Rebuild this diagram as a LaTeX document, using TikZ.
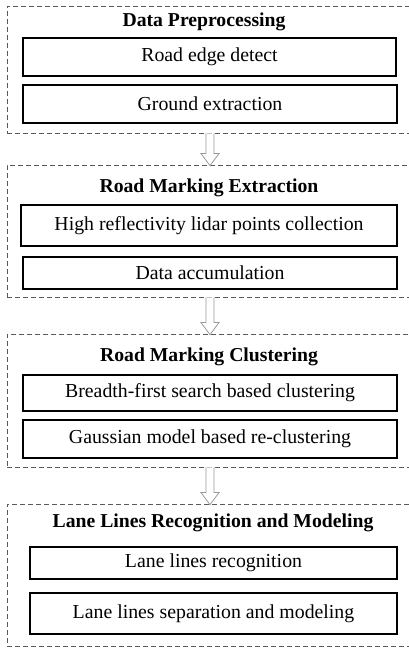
\documentclass[tikz,border=0pt]{standalone}
\usepackage{fontspec}
\setmainfont{Liberation Serif}
\usetikzlibrary{calc}
\begin{document}
\begin{tikzpicture}[x=1pt,y=1pt,
  group/.style={draw=black!65,dashed,dash pattern=on 5pt off 3pt,line width=0.8pt,minimum width=406pt,inner sep=0pt},
  title/.style={font=\fontsize{19.7}{22}\selectfont\bfseries,inner sep=0pt},
  stepbox/.style={draw=black,line width=1.5pt,inner sep=0pt,font=\fontsize{19.8}{22}\selectfont},
  hollow/.style={draw=black!40,fill=white,line width=0.8pt,line join=miter}]
\useasboundingbox (0,0) rectangle (409,648);
% groups
\node[group,minimum height=127pt] (g1) at (210,578.5) {};
\node[group,minimum height=132pt] (g2) at (210,417) {};
\node[group,minimum height=133pt] (g3) at (210,247.5) {};
\node[group,minimum height=142pt] (g4) at (210,73) {};
% titles
\node[title] (t1) at (204,626) {Data Preprocessing};
\node[title] (t2) at (209,460) {Road Marking Extraction};
\node[title] (t3) at (209,291) {Road Marking Clustering};
\node[title] (t4) at (213,125) {Lane Lines Recognition and Modeling};
% steps
\node[stepbox,minimum width=373pt,minimum height=38pt] (b11) at (209.5,591) {Road edge detect};
\node[stepbox,minimum width=374pt,minimum height=38pt] (b12) at (210,544) {Ground extraction};
\node[stepbox,minimum width=376pt,minimum height=41pt] (b21) at (209,422.5) {High reflectivity lidar points collection};
\node[stepbox,minimum width=374pt,minimum height=32pt] (b22) at (210,375) {Data accumulation};
\node[stepbox,minimum width=374pt,minimum height=36pt] (b31) at (210,255) {Breadth-first search based clustering};
\node[stepbox,minimum width=374pt,minimum height=38pt] (b32) at (210,209) {Gaussian model based re-clustering};
\node[stepbox,minimum width=367pt,minimum height=32pt] (b41) at (213.5,85) {Lane lines recognition};
\node[stepbox,minimum width=367pt,minimum height=41pt] (b42) at (213.5,34.5) {Lane lines separation and modeling};
% hollow arrows
\foreach \a/\b in {g1/g2,g2/g3,g3/g4}{
  \draw[hollow] ($(\a.south)+(-4,0)$) -- ($(\b.north)+(-4,11)$) -- ($(\b.north)+(-9,11)$)
    -- ($(\b.north)+(0,-1)$) -- ($(\b.north)+(9,11)$) -- ($(\b.north)+(4,11)$)
    -- ($(\a.south)+(4,0)$);
}
\end{tikzpicture}
\end{document}
